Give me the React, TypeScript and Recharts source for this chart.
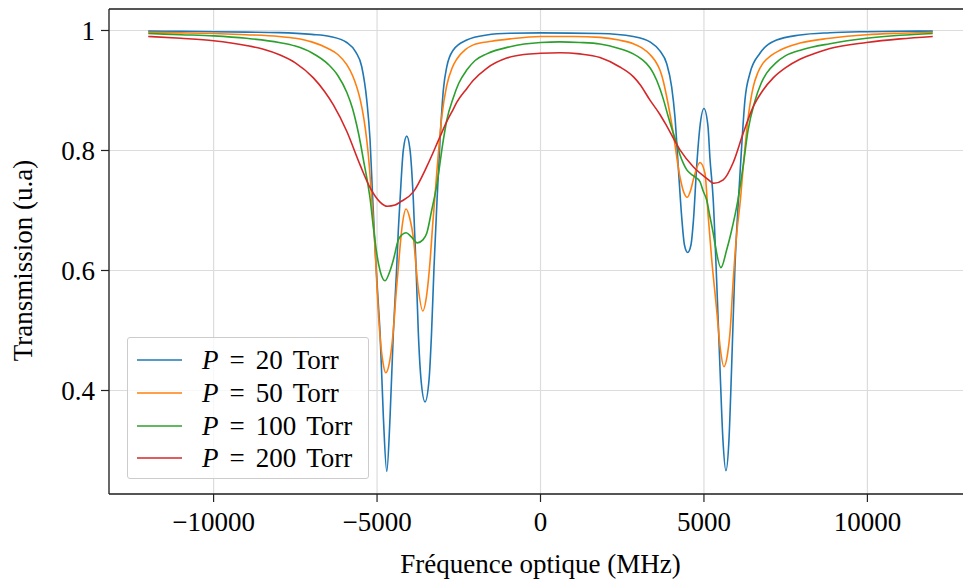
import React from 'react';
import { LineChart, Line, XAxis, YAxis, CartesianGrid, Legend, Label } from 'recharts';

// P = 20 Torr
const freq20 = [-12000, -11000, -10000, -9000, -8000, -7000, -6440, -5927, -5650, -5470, -5315, -5214, -5131, -5061, -4969, -4908, -4807, -4703, -4602, -4502, -4398, -4349, -4297, -4196, -4092, -3991, -3890, -3807, -3737, -3654, -3532, -3410, -3333, -3257, -3165, -3073, -2972, -2869, -2667, -2257, -1645, -933, 0, 1820, 2838, 3349, 3654, 3859, 4012, 4113, 4214, 4318, 4404, 4502, 4602, 4679, 4777, 4878, 5000, 5122, 5183, 5284, 5388, 5489, 5581, 5673, 5765, 5847, 5948, 6055, 6147, 6254, 6407, 6713, 7223, 7936, 8853, 9976, 11000, 12000];
const trans20 = [0.999, 0.9985, 0.998, 0.9973, 0.9965, 0.9935, 0.990, 0.980, 0.964, 0.940, 0.884, 0.8175, 0.7175, 0.6375, 0.551, 0.496, 0.356, 0.265, 0.356, 0.496, 0.606, 0.6675, 0.7175, 0.801, 0.824, 0.801, 0.7175, 0.606, 0.496, 0.4175, 0.381, 0.4175, 0.496, 0.606, 0.7175, 0.8175, 0.901, 0.939, 0.9675, 0.984, 0.9925, 0.9953, 0.996, 0.995, 0.990, 0.981, 0.966, 0.945, 0.906, 0.856, 0.773, 0.690, 0.6425, 0.630, 0.6425, 0.684, 0.773, 0.840, 0.870, 0.841, 0.7875, 0.7175, 0.584, 0.4397, 0.3175, 0.2663, 0.3175, 0.4397, 0.606, 0.7175, 0.801, 0.884, 0.9287, 0.962, 0.984, 0.9925, 0.9963, 0.998, 0.9987, 0.999];

// P = 50 Torr
const freq50 = [-12000, -11000, -10000, -9000, -8000, -7500, -7000, -6500, -6200, -5927, -5750, -5622, -5520, -5400, -5315, -5230, -5162, -5061, -5009, -4960, -4908, -4820, -4734, -4620, -4502, -4420, -4349, -4230, -4113, -3990, -3890, -3750, -3602, -3480, -3379, -3300, -3174, -3021, -2869, -2700, -2563, -2300, -2055, -1500, -933, 0, 1000, 1820, 2400, 2838, 3100, 3349, 3500, 3654, 3759, 3859, 4061, 4266, 4367, 4490, 4600, 4673, 4878, 5031, 5131, 5235, 5388, 5500, 5612, 5720, 5795, 5896, 6000, 6115, 6202, 6355, 6508, 6650, 6813, 7050, 7324, 7936, 8853, 9976, 11000, 12000];
const trans50 = [0.997, 0.996, 0.995, 0.993, 0.990, 0.987, 0.981, 0.970, 0.960, 0.943, 0.925, 0.906, 0.886, 0.852, 0.8175, 0.770, 0.7175, 0.637, 0.580, 0.530, 0.490, 0.447, 0.4297, 0.447, 0.500, 0.560, 0.606, 0.675, 0.7025, 0.685, 0.655, 0.575, 0.5325, 0.560, 0.615, 0.675, 0.762, 0.856, 0.908, 0.938, 0.952, 0.968, 0.976, 0.982, 0.986, 0.990, 0.990, 0.9885, 0.984, 0.978, 0.971, 0.960, 0.950, 0.934, 0.915, 0.890, 0.829, 0.756, 0.733, 0.722, 0.735, 0.751, 0.780, 0.762, 0.690, 0.620, 0.535, 0.470, 0.4397, 0.460, 0.495, 0.584, 0.660, 0.7175, 0.773, 0.856, 0.906, 0.930, 0.946, 0.958, 0.967, 0.979, 0.987, 0.993, 0.9955, 0.997];

// P = 100 Torr
const freq100 = [-12000, -11000, -10000, -9000, -8000, -7500, -7000, -6500, -6200, -5927, -5750, -5621, -5500, -5419, -5300, -5214, -5113, -5000, -4900, -4755, -4600, -4502, -4349, -4230, -4113, -3950, -3768, -3600, -3480, -3330, -3174, -2972, -2869, -2667, -2500, -2257, -2000, -1645, -933, 0, 596, 1200, 1820, 2400, 2838, 3100, 3349, 3450, 3654, 3755, 3900, 4061, 4165, 4266, 4367, 4471, 4673, 4878, 4979, 5083, 5183, 5284, 5336, 5520, 5694, 5826, 6040, 6202, 6346, 6560, 6750, 6917, 7200, 7500, 8000, 8853, 9976, 11000, 12000];
const trans100 = [0.995, 0.993, 0.991, 0.987, 0.980, 0.974, 0.963, 0.944, 0.925, 0.897, 0.870, 0.842, 0.810, 0.785, 0.750, 0.720, 0.672, 0.625, 0.598, 0.583, 0.600, 0.6175, 0.651, 0.660, 0.663, 0.656, 0.646, 0.651, 0.662, 0.700, 0.742, 0.8175, 0.850, 0.888, 0.912, 0.934, 0.950, 0.961, 0.973, 0.980, 0.981, 0.980, 0.9775, 0.970, 0.961, 0.952, 0.938, 0.929, 0.903, 0.886, 0.858, 0.829, 0.812, 0.793, 0.779, 0.768, 0.758, 0.748, 0.732, 0.7175, 0.690, 0.662, 0.645, 0.6047, 0.634, 0.662, 0.7175, 0.775, 0.8325, 0.8825, 0.912, 0.929, 0.946, 0.958, 0.968, 0.978, 0.987, 0.992, 0.995];

// P = 200 Torr
const freq200 = [-12000, -11000, -10000, -9000, -8500, -7966, -7500, -6948, -6600, -6336, -5927, -5520, -5214, -4908, -4685, -4450, -4297, -3890, -3480, -3073, -2869, -2667, -2563, -2257, -2054, -1645, -1034, -500, 0, 596, 1200, 1820, 2400, 2838, 3043, 3349, 3654, 3859, 4266, 4673, 5083, 5306, 5590, 5896, 6202, 6508, 6800, 7119, 7500, 7936, 8446, 8853, 9976, 11000, 12000];
const trans200 = [0.990, 0.987, 0.983, 0.975, 0.969, 0.959, 0.946, 0.921, 0.898, 0.876, 0.832, 0.776, 0.738, 0.714, 0.707, 0.709, 0.714, 0.731, 0.773, 0.823, 0.848, 0.869, 0.880, 0.903, 0.917, 0.937, 0.954, 0.960, 0.962, 0.963, 0.961, 0.955, 0.940, 0.923, 0.910, 0.884, 0.860, 0.841, 0.801, 0.773, 0.7537, 0.7453, 0.751, 0.780, 0.829, 0.873, 0.900, 0.921, 0.938, 0.952, 0.963, 0.970, 0.980, 0.986, 0.990];

const pressures = [20, 50, 100, 200];
const colors = ['#1f77b4', '#ff7f0e', '#2ca02c', '#d62728'];
const xTicks = [-10000, -5000, 0, 5000, 10000];
const yTicks = [0.4, 0.6, 0.8, 1];
const xLabel = 'Fréquence optique (MHz)';
const yLabel = 'Transmission (u.a)';

const FONT = '"Liberation Serif", "Times New Roman", serif';
const FS = 27;

const seriesRaw = [
  { f: freq20, t: trans20 },
  { f: freq50, t: trans50 },
  { f: freq100, t: trans100 },
  { f: freq200, t: trans200 },
];
const series = seriesRaw.map((s, i) => ({
  p: pressures[i],
  color: colors[i],
  data: s.f.map((x, j) => ({ x, y: s.t[j] })),
}));

const fmtX = (v: number) => (v < 0 ? '\u2212' + Math.abs(v) : String(v));
const fmtY = (v: number) => (v === 1 ? '1' : v.toFixed(1));

const renderLegend = () => (
  <div
    style={{
      position: 'relative',
      width: 242,
      height: 142,
      boxSizing: 'border-box',
      border: '1px solid #cccccc',
      borderRadius: 3,
      background: 'rgba(255,255,255,0.8)',
      fontFamily: FONT,
      fontSize: FS,
      color: '#000',
    }}
  >
    {series.map((s, i) => (
      <div
        key={s.p}
        style={{ position: 'absolute', left: 0, top: 22 + i * 32.8 - 16, height: 32, width: 240 }}
      >
        <svg width={60} height={32} style={{ position: 'absolute', left: 0, top: 0 }}>
          <line x1={9} x2={54} y1={16} y2={16} stroke={s.color} strokeWidth={1.6} />
        </svg>
        <span style={{ position: 'absolute', left: 74, top: 0, lineHeight: '32px', whiteSpace: 'nowrap' }}>
          <i>P</i>
          <span style={{ marginLeft: 11, marginRight: 11 }}>=</span>
          {s.p}
          <span style={{ marginLeft: 10 }}>Torr</span>
        </span>
      </div>
    ))}
  </div>
);

export default function App() {
  return (
    <div style={{ position: 'absolute', left: 0, top: 0, width: 963, height: 581, overflow: 'hidden', background: '#fff' }}>
      <LineChart width={972} height={581} margin={{ top: 8, right: 0, bottom: 0, left: 0 }}>
        <CartesianGrid stroke="#dcdcdc" strokeWidth={1.2} />
        <XAxis
          xAxisId="top"
          orientation="top"
          type="number"
          domain={[-13200, 13200]}
          allowDataOverflow
          tick={false}
          tickLine={false}
          height={1}
          axisLine={{ stroke: '#222', strokeWidth: 1.3 }}
        />
        <XAxis
          dataKey="x"
          type="number"
          domain={[-13200, 13200]}
          allowDataOverflow
          ticks={xTicks}
          interval={0}
          tickFormatter={fmtX}
          tickSize={8}
          tickMargin={10}
          height={87}
          axisLine={{ stroke: '#222', strokeWidth: 1.3 }}
          tickLine={{ stroke: '#222', strokeWidth: 1.2 }}
          tick={{ fill: '#000', fontSize: FS, fontFamily: FONT }}
        >
          <Label value={xLabel} position="insideBottom" offset={8} style={{ fill: '#000', fontSize: FS, fontFamily: FONT }} />
        </XAxis>
        <YAxis
          type="number"
          domain={[0.2275, 1.0358]}
          allowDataOverflow
          ticks={yTicks}
          interval={0}
          tickFormatter={fmtY}
          tickSize={8}
          tickMargin={6}
          width={109}
          axisLine={{ stroke: '#222', strokeWidth: 1.3 }}
          tickLine={{ stroke: '#222', strokeWidth: 1.2 }}
          tick={{ fill: '#000', fontSize: FS, fontFamily: FONT }}
        >
          <Label value={yLabel} angle={-90} position="center" dx={-32} dy={9} style={{ fill: '#000', fontSize: FS, fontFamily: FONT }} />
        </YAxis>
        {series.map((s) => (
          <Line
            key={s.p}
            data={s.data}
            dataKey="y"
            name={`P = ${s.p} Torr`}
            type="monotone"
            stroke={s.color}
            strokeWidth={1.6}
            dot={false}
            activeDot={false}
            isAnimationActive={false}
          />
        ))}
        <Legend
          layout="vertical"
          align="center"
          verticalAlign="middle"
          wrapperStyle={{ left: 127, top: 337, width: 242, height: 142 }}
          content={renderLegend}
        />
      </LineChart>
    </div>
  );
}
